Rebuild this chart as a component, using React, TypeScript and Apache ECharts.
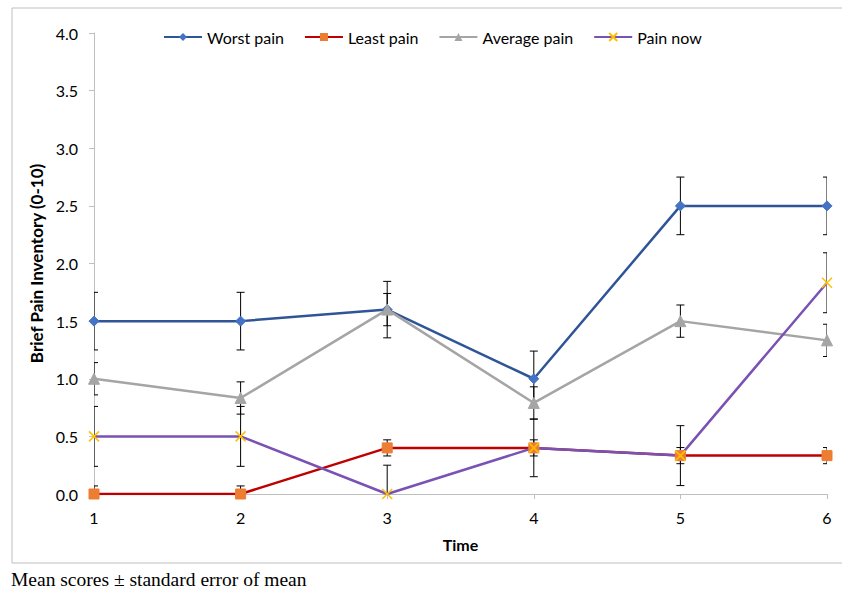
import React, { useEffect, useRef } from "react";
import * as echarts from "echarts";

const times = [1, 2, 3, 4, 5, 6];
const worstPain = [1.5, 1.5, 1.6, 1.0, 2.5, 2.5];
const worstErr = [0.25, 0.25, 0.245, 0.24, 0.25, 0.25];
const leastPain = [0, 0, 0.4, 0.4, 0.333, 0.333];
const leastErr = [0.07, 0.07, 0.07, 0.07, 0.07, 0.07];
const averagePain = [1.0, 0.833, 1.6, 0.79, 1.5, 1.333];
const averageErr = [0.14, 0.14, 0.14, 0.14, 0.14, 0.14];
const painNow = [0.5, 0.5, 0, 0.4, 0.333, 1.833];
const painNowErr = [0.26, 0.26, 0.25, 0.25, 0.26, 0.26];

const FONT = "Lato, 'Open Sans', sans-serif";

function errData(vals: number[], errs: number[]) {
  return times.map((t, i) => [t, vals[i] - errs[i], vals[i] + errs[i]]);
}

function errSeries(name: string, vals: number[], errs: number[]) {
  return {
    type: "custom",
    name: name + " err",
    z: 1,
    silent: true,
    clip: true,
    data: errData(vals, errs),
    encode: { x: 0, y: [1, 2] },
    renderItem: (params: any, api: any) => {
      const x = api.value(0);
      const lo = api.coord([x, Math.max(0, api.value(1))]);
      const loRaw = api.value(1);
      const hi = api.coord([x, api.value(2)]);
      const w = 4;
      const children: any[] = [
        { type: "line", shape: { x1: hi[0], y1: hi[1], x2: lo[0], y2: lo[1] }, style: { stroke: "#000", lineWidth: 1 } },
        { type: "line", shape: { x1: hi[0] - w, y1: hi[1], x2: hi[0] + w, y2: hi[1] }, style: { stroke: "#000", lineWidth: 1 } },
      ];
      if (loRaw >= 0) {
        children.push({ type: "line", shape: { x1: lo[0] - w, y1: lo[1], x2: lo[0] + w, y2: lo[1] }, style: { stroke: "#000", lineWidth: 1 } });
      }
      return { type: "group", children };
    },
  };
}

export default function App() {
  const ref = useRef<HTMLDivElement>(null);
  useEffect(() => {
    if (!ref.current) return;
    const chart = echarts.init(ref.current, undefined, { renderer: "svg" });
    const lineSeries = (name: string, data: number[], lineColor: string, markColor: string, symbol: string, size: number, extra: any = {}) => ({
      type: "line",
      name,
      z: 3,
      data: times.map((t, i) => [t, data[i]]),
      symbol,
      symbolSize: size,
      showAllSymbol: true,
      lineStyle: { color: lineColor, width: 2.5 },
      itemStyle: { color: markColor, borderColor: markColor, ...extra },
      emphasis: { disabled: true },
    });
    chart.setOption({
      animation: false,
      backgroundColor: "#ffffff",
      textStyle: { fontFamily: FONT },
      legend: {
        top: 24,
        left: 158,
        itemGap: 20,
        itemWidth: 38,
        itemHeight: 10,
        textStyle: { fontSize: 16, color: "#000", fontFamily: FONT },
        data: ["Worst pain", "Least pain", "Average pain", "Pain now"],
      },
      grid: { left: 94, right: 15, top: 33, bottom: 98 },
      xAxis: {
        type: "value",
        min: 1,
        max: 6,
        interval: 1,
        name: "Time",
        nameLocation: "middle",
        nameGap: 42,
        nameTextStyle: { fontSize: 16, fontWeight: "bold", color: "#000", fontFamily: FONT },
        axisLine: { lineStyle: { color: "#BFBFBF", width: 1 } },
        axisTick: { show: true, inside: false, length: 5, lineStyle: { color: "#BFBFBF" } },
        axisLabel: { fontSize: 16, color: "#000", margin: 15, fontFamily: FONT },
        splitLine: { show: false },
      },
      yAxis: {
        type: "value",
        min: 0,
        max: 4,
        interval: 0.5,
        name: "Brief Pain Inventory (0-10)",
        nameLocation: "middle",
        nameGap: 48,
        nameTextStyle: { fontSize: 17, fontWeight: "bold", color: "#000", fontFamily: FONT },
        axisLine: { show: true, lineStyle: { color: "#BFBFBF", width: 1 } },
        axisTick: { show: true, inside: false, length: 5, lineStyle: { color: "#BFBFBF" } },
        axisLabel: { fontSize: 16, color: "#000", margin: 16, fontFamily: FONT, formatter: (v: number) => v.toFixed(1) },
        splitLine: { show: false },
      },
      graphic: [
        {
          type: "rect",
          shape: { x: 12, y: 8, width: 840, height: 555 },
          style: { fill: "none", stroke: "#BFBFBF", lineWidth: 1 },
          silent: true,
          z: -10,
        },
        {
          type: "text",
          left: 11,
          top: 569,
          style: { text: "Mean scores ± standard error of mean", fontFamily: "'Liberation Serif', 'Times New Roman', serif", fontSize: 19.5, fill: "#000" },
        },
      ],
      series: [
        errSeries("Worst pain", worstPain, worstErr),
        errSeries("Least pain", leastPain, leastErr),
        errSeries("Average pain", averagePain, averageErr),
        errSeries("Pain now", painNow, painNowErr),
        lineSeries("Worst pain", worstPain, "#2F5597", "#4472C4", "diamond", 10),
        lineSeries("Least pain", leastPain, "#C00000", "#ED7D31", "rect", 10),
        lineSeries("Average pain", averagePain, "#A5A5A5", "#A5A5A5", "triangle", 11),
        lineSeries("Pain now", painNow, "#7A52B3", "#FFC000", "path://M0,0L10,10M10,0L0,10", 10, { color: "none", borderColor: "#FFC000", borderWidth: 1.5 }),
      ],
    });
    return () => chart.dispose();
  }, []);
  return <div ref={ref} style={{ position: "fixed", left: 0, top: 0, width: 842, height: 592 }} />;
}
